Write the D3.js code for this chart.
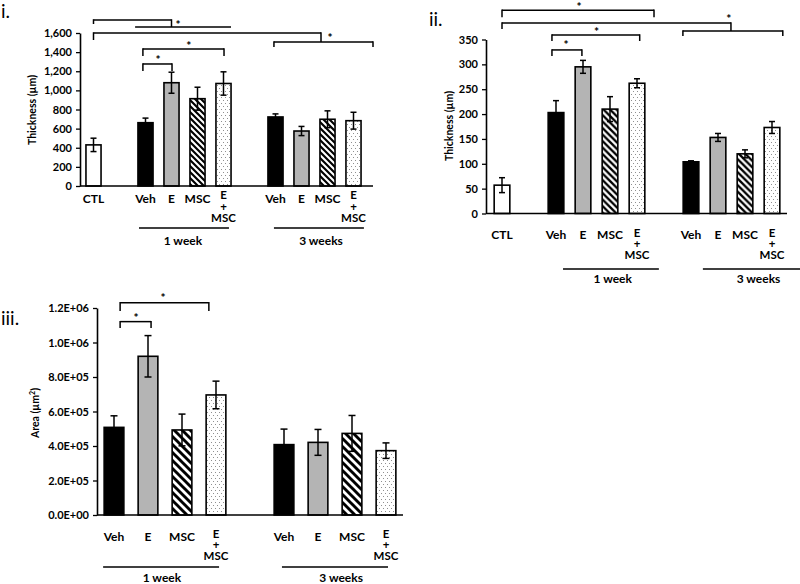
<!DOCTYPE html>
<html><head><meta charset="utf-8">
<script src="https://cdn.jsdelivr.net/npm/d3@7"></script>
<style>
html,body{margin:0;padding:0;background:#fff;}
svg{display:block;font-family:Lato,"Open Sans",sans-serif;}
</style></head>
<body>
<svg id="chart" width="800" height="584"></svg>
<script>
// ---------- DATA ----------
const catsAB = ["CTL","gap1","Veh1","E1","MSC1","EM1","gap2","Veh3","E3","MSC3","EM3"];
const labelsAB = ["CTL","","Veh","E","MSC","E|+|MSC","","Veh","E","MSC","E|+|MSC"];
const catsC = ["Veh1","E1","MSC1","EM1","gap","Veh3","E3","MSC3","EM3"];
const labelsC = ["Veh","E","MSC","E|+|MSC","","Veh","E","MSC","E|+|MSC"];

// Panel i: thickness (µm)
const thicknessI = [430,null,662,1080,913,1072,null,722,575,698,683];
const errorI     = [70,null,48,110,120,122,null,32,48,88,88];
const ticksI = [0,200,400,600,800,1000,1200,1400,1600];

// Panel ii: thickness (µm)
const thicknessII = [57,null,203,295,210,262,null,104,153,120,173];
const errorII     = [15,null,24,13,25,9,null,2,8,8,12];
const ticksII = [0,50,100,150,200,250,300,350];

// Panel iii: area (µm²)
const areaIII  = [5.08e5,9.2e5,4.93e5,6.96e5,null,4.08e5,4.21e5,4.73e5,3.73e5];
const errorIII = [0.67e5,1.2e5,0.92e5,0.8e5,null,0.9e5,0.75e5,1.04e5,0.45e5];
const ticksIII = [0,2e5,4e5,6e5,8e5,10e5,12e5];

// Group labels (slot index units)
const groupsI   = [{label:"1 week",a:1.75,b:5.21,t:3.44},{label:"3 weeks",a:6.94,b:10.4,t:8.75}];
const groupsII  = [{label:"1 week",a:2.26,b:5.81,t:4.1},{label:"3 weeks",a:7.44,b:11.3,t:9.5}];
const groupsIII = [{label:"1 week",a:-0.32,b:3.09,t:1.41},{label:"3 weeks",a:4.94,b:8.06,t:6.68}];

// Significance brackets: lines [idx1, idx2, level], ticks [idx, from, to], star [idx, level]
const sigI = [
  {lines:[[0,3,1736],[1.6,5.29,1663]], ticks:[[0,1736,1694],[3,1736,1663]], star:[3.25,1715]},
  {lines:[[0,8.75,1600],[6.94,10.75,1506]], ticks:[[0,1600,1527],[8.75,1600,1506],[6.94,1506,1454],[10.75,1506,1454]], star:[9.1,1579]},
  {lines:[[1.9,5.02,1433]], ticks:[[1.9,1433,1359],[5.02,1433,1359]], star:[3.67,1485]},
  {lines:[[1.9,3.02,1276]], ticks:[[1.9,1276,1203],[3.02,1276,1203]], star:[2.48,1339]}
];
const sigII = [
  {lines:[[0,5.63,409]], ticks:[[0,409,395],[5.63,409,395]], star:[2.85,421]},
  {lines:[[0,8.48,383],[6.7,10.4,367]], ticks:[[0,383,371],[8.48,383,367],[6.7,367,357],[10.4,367,357]], star:[8.4,397]},
  {lines:[[1.85,5.1,359]], ticks:[[1.85,359,347],[5.1,359,347]], star:[3.5,371]},
  {lines:[[1.85,2.96,329]], ticks:[[1.85,329,317],[2.96,329,317]], star:[2.37,343]}
];
const sigIII = [
  {lines:[[0.18,2.79,12.31e5]], ticks:[[0.18,12.31e5,11.83e5],[2.79,12.31e5,11.83e5]], star:[1.44,12.7e5]},
  {lines:[[0.18,1.09,11.21e5]], ticks:[[0.18,11.21e5,10.84e5],[1.09,11.21e5,10.84e5]], star:[0.65,11.59e5]}
];

// ---------- DRAW ----------
const svg = d3.select("#chart");
const defs = svg.append("defs");

function makePatterns(id, s){
  const h = defs.append("pattern").attr("id","hatch"+id).attr("patternUnits","userSpaceOnUse")
    .attr("width",s).attr("height",s);
  h.append("rect").attr("width",s).attr("height",s).attr("fill","#fff");
  h.append("path").attr("d",`M${-s/2},${s/2} L${s/2},${s*1.5} M0,0 L${s},${s} M${s/2},${-s/2} L${s*1.5},${s/2}`)
    .attr("stroke","#000").attr("stroke-width",s*0.36);
  const d = defs.append("pattern").attr("id","dots"+id).attr("patternUnits","userSpaceOnUse")
    .attr("width",4).attr("height",6);
  d.append("rect").attr("width",4).attr("height",6).attr("fill","#fff");
  d.append("rect").attr("x",1).attr("y",1).attr("width",1).attr("height",1).attr("fill","#909090");
  d.append("rect").attr("x",3).attr("y",4).attr("width",1).attr("height",1).attr("fill","#909090");
}

function fillFor(key, id){
  if(key.startsWith("CTL")) return "#fff";
  if(key.startsWith("Veh")) return "#000";
  if(key.startsWith("EM")) return `url(#dots${id})`;
  if(key.startsWith("E")) return "#b4b4b4";
  if(key.startsWith("MSC")) return `url(#hatch${id})`;
  return "none";
}

function panel(cfg){
  const {id, cats, labels, values, errors, ticks, fmt, r0, r1, yBase, yTop, axisX, axisEnd,
         yMax, groups, sigs, label, labelPos, title, titlePos, catDy, multiDy, groupY, groupTextY, cap, hatch} = cfg;
  makePatterns(id, hatch);
  const g = svg.append("g");
  const x = d3.scaleBand().domain(cats).range([r0,r1]).paddingInner(0.42).paddingOuter(0.21);
  const y = d3.scaleLinear().domain([0,yMax]).range([yBase,yTop]);
  const slot = i => r0 + x.step()*(i+0.5);

  const data = cats.map((c,i)=>({key:c, label:labels[i], v:values[i], e:errors[i]}));
  const bars = data.filter(d=>d.v!=null);

  // bars
  g.selectAll("rect.bar").data(bars).enter().append("rect")
    .attr("x",d=>x(d.key)).attr("width",x.bandwidth())
    .attr("y",d=>y(d.v)).attr("height",d=>y(0)-y(d.v))
    .attr("fill",d=>fillFor(d.key,id)).attr("stroke","#000").attr("stroke-width",1.6);

  // error bars
  const eb = g.selectAll("g.err").data(bars).enter().append("g")
    .attr("stroke","#000").attr("stroke-width",1.5);
  const cx = d=>x(d.key)+x.bandwidth()/2;
  eb.append("line").attr("x1",cx).attr("x2",cx)
    .attr("y1",d=>y(d.v-d.e)).attr("y2",d=>y(d.v+d.e));
  eb.append("line").attr("x1",d=>cx(d)-cap).attr("x2",d=>cx(d)+cap)
    .attr("y1",d=>y(d.v+d.e)).attr("y2",d=>y(d.v+d.e));
  eb.append("line").attr("x1",d=>cx(d)-cap).attr("x2",d=>cx(d)+cap)
    .attr("y1",d=>y(d.v-d.e)).attr("y2",d=>y(d.v-d.e));

  // y axis
  const ax = g.append("g").attr("transform",`translate(${axisX},0)`)
    .call(d3.axisLeft(y).tickValues(ticks).tickFormat(fmt).tickSize(4).tickSizeOuter(0).tickPadding(4));
  ax.select(".domain").attr("stroke","#000").attr("stroke-width",1.6);
  ax.selectAll(".tick line").attr("stroke","#000").attr("stroke-width",1.3);
  ax.selectAll("text").attr("font-size",11).attr("font-weight","bold").attr("fill","#000")
    .attr("font-family","Lato, 'Open Sans', sans-serif");

  // x axis line
  g.append("line").attr("x1",axisX).attr("x2",axisEnd).attr("y1",yBase).attr("y2",yBase)
    .attr("stroke","#000").attr("stroke-width",1.6);

  // category labels
  data.filter(d=>d.label).forEach(d=>{
    const px = cx(d);
    const parts = d.label.split("|");
    if(parts.length===1){
      g.append("text").attr("text-anchor","middle").attr("font-size",12)
        .attr("font-weight","bold").attr("fill","#000")
        .attr("x",px).attr("y",yBase+catDy).text(parts[0]);
    } else {
      parts.forEach((p,k)=>g.append("text").attr("text-anchor","middle")
        .attr("font-size",11.5).attr("font-weight","bold").attr("fill","#000")
        .attr("x",px).attr("y",yBase+multiDy[k]).text(p));
    }
  });

  // group lines and labels
  groups.forEach(gr=>{
    g.append("line").attr("x1",slot(gr.a)).attr("x2",slot(gr.b)).attr("y1",groupY).attr("y2",groupY)
      .attr("stroke","#000").attr("stroke-width",1.5);
    g.append("text").attr("x",slot(gr.t)).attr("y",groupTextY).attr("text-anchor","middle")
      .attr("font-size",12).attr("font-weight","bold").attr("fill","#000").text(gr.label);
  });

  // significance brackets
  sigs.forEach(s=>{
    s.lines.forEach(l=>g.append("line").attr("x1",slot(l[0])).attr("x2",slot(l[1]))
      .attr("y1",y(l[2])).attr("y2",y(l[2])).attr("stroke","#000").attr("stroke-width",1.5));
    s.ticks.forEach(t=>g.append("line").attr("x1",slot(t[0])).attr("x2",slot(t[0]))
      .attr("y1",y(t[1])-0.75).attr("y2",y(t[2])).attr("stroke","#000").attr("stroke-width",1.5));
    g.append("text").attr("x",slot(s.star[0])).attr("y",y(s.star[1])+6.5).attr("text-anchor","middle")
      .attr("font-size",12).attr("font-weight","bold").attr("fill","#000").text("*");
  });

  // y title
  g.append("text").attr("transform",`translate(${titlePos[0]},${titlePos[1]}) rotate(-90)`)
    .attr("text-anchor","middle").attr("font-size",10.5).attr("font-weight","bold").attr("fill","#000")
    .html(title);

  // panel label
  g.append("text").attr("x",labelPos[0]).attr("y",labelPos[1]).attr("font-size",19)
    .attr("fill","#000").text(label);
}

const fmtComma = d3.format(",");
const fmtSci = v => { const e = v===0?0:Math.floor(Math.log10(v)); const m = v/Math.pow(10,e);
  return m.toFixed(1)+"E+"+String(e).padStart(2,"0"); };

panel({id:"a", cats:catsAB, labels:labelsAB, values:thicknessI, errors:errorI, ticks:ticksI, fmt:fmtComma,
  r0:80.5, r1:366.5, yBase:186, yTop:33, axisX:80, axisEnd:373, yMax:1600,
  groups:groupsI, sigs:sigI, label:"i.", labelPos:[1,18], title:"Thickness (µm)", titlePos:[36,110],
  catDy:17, multiDy:[13,24.5,36], groupY:228, groupTextY:245, cap:3, hatch:6});

panel({id:"b", cats:catsAB, labels:labelsAB, values:thicknessII, errors:errorII, ticks:ticksII, fmt:fmtComma,
  r0:488.5, r1:785.5, yBase:213.5, yTop:39.5, axisX:486, axisEnd:787, yMax:350,
  groups:groupsII, sigs:sigII, label:"ii.", labelPos:[429,26], title:"Thickness (µm)", titlePos:[453,126],
  catDy:25.5, multiDy:[23.5,34.5,45], groupY:269, groupTextY:283, cap:3, hatch:6.5});

panel({id:"c", cats:catsC, labels:labelsC, values:areaIII, errors:errorIII, ticks:ticksIII, fmt:fmtSci,
  r0:97, r1:403, yBase:515, yTop:308, axisX:97, axisEnd:403, yMax:1.2e6,
  groups:groupsIII, sigs:sigIII, label:"iii.", labelPos:[1,325], title:"Area (µm<tspan font-size='7' dy='-4'>2</tspan><tspan dy='4'>)</tspan>", titlePos:[39,413],
  catDy:26, multiDy:[23,34,45], groupY:567, groupTextY:582, cap:3.5, hatch:8});
</script>
</body></html>
